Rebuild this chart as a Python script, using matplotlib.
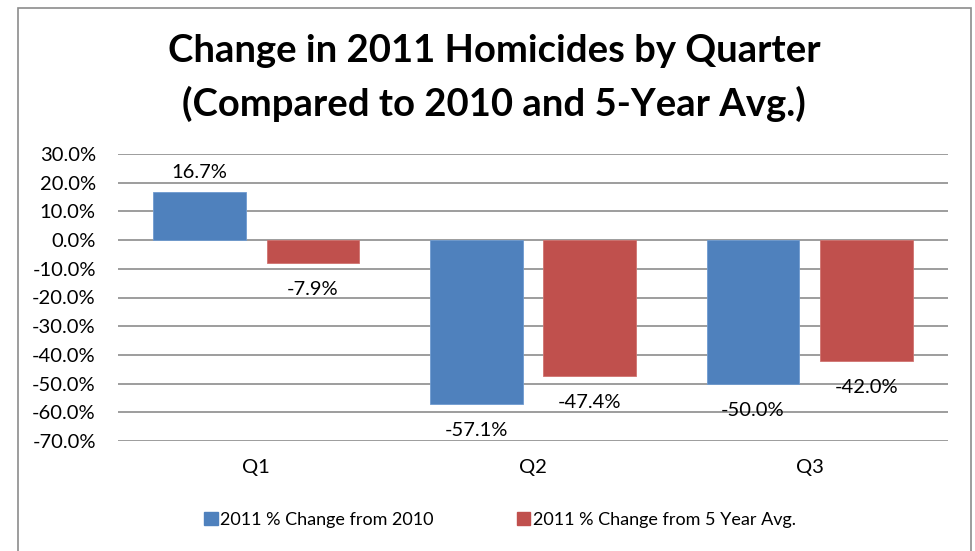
import matplotlib
matplotlib.use("Agg")
import matplotlib.pyplot as plt
from matplotlib.patches import Rectangle
import numpy as np

categories = ["Q1", "Q2", "Q3"]
change_2010 = [16.7, -57.1, -50.0]
change_5yr = [-7.9, -47.4, -42.0]
series_names = ["2011 % Change from 2010", "2011 % Change from 5 Year Avg."]
yticks = [30, 20, 10, 0, -10, -20, -30, -40, -50, -60, -70]

plt.rcParams['font.family'] = ['Lato', 'DejaVu Sans']

W, H = 975, 551
fig = plt.figure(figsize=(W / 100, H / 100), dpi=100)
fig.patch.set_facecolor('white')

# chart border
fig.patches.append(Rectangle((18 / W, -0.01), (971 - 18) / W, (H - 8) / H + 0.01,
                             transform=fig.transFigure, fill=False,
                             edgecolor='#8c8c8c', linewidth=1.2))

ax = fig.add_axes([118 / W, 1 - 441 / H, (948 - 118) / W, (441 - 154) / H])
x = np.arange(len(categories))
bw = 0.335
off = 0.205
blue = '#4F81BD'
red = '#C0504D'
b1 = ax.bar(x - off, change_2010, bw, color=blue, zorder=3, edgecolor='#6f9bd0', linewidth=0.6)
b2 = ax.bar(x + off, change_5yr, bw, color=red, zorder=3, edgecolor='#d07370', linewidth=0.6)

ax.set_xlim(-0.5, 2.5)
ax.set_ylim(-70, 30)
ax.set_yticks(yticks)
ax.set_yticklabels([f"{v:.1f}%" for v in yticks], fontsize=14.5)
ax.tick_params(axis='y', length=0, pad=16)
ax.set_xticks(x)
ax.set_xticklabels(categories, fontsize=14.5)
ax.tick_params(axis='x', length=0, pad=13)
ax.grid(axis='y', color='#8c8c8c', linewidth=1.2, zorder=0)
for s in ax.spines.values():
    s.set_visible(False)

for bars, vals in ((b1, change_2010), (b2, change_5yr)):
    for rect, v in zip(bars, vals):
        cx = rect.get_x() + rect.get_width() / 2
        if v >= 0:
            ax.annotate(f"{v:.1f}%", (cx, v), xytext=(0, 8), textcoords='offset points',
                        ha='center', va='bottom', fontsize=14.5, zorder=4)
        else:
            ax.annotate(f"{v:.1f}%", (cx, v), xytext=(0, -13), textcoords='offset points',
                        ha='center', va='top', fontsize=14.5, zorder=4)

fig.text(494 / W, 1 - 51 / H, "Change in 2011 Homicides by Quarter",
         ha='center', va='center', fontsize=27.5, fontweight='bold')
fig.text(494 / W, 1 - 104 / H, "(Compared to 2010 and 5-Year Avg.)",
         ha='center', va='center', fontsize=27.5, fontweight='bold')

handles = [Rectangle((0, 0), 1, 1, color=blue), Rectangle((0, 0), 1, 1, color=red)]
fig.legend(handles, series_names, loc='center', bbox_to_anchor=(500 / W, 1 - 520 / H),
           ncol=2, frameon=False, fontsize=13, handlelength=0.75, handleheight=0.75,
           handletextpad=0.15, columnspacing=4.6)

fig.savefig("out.png", dpi=100, facecolor='white')
